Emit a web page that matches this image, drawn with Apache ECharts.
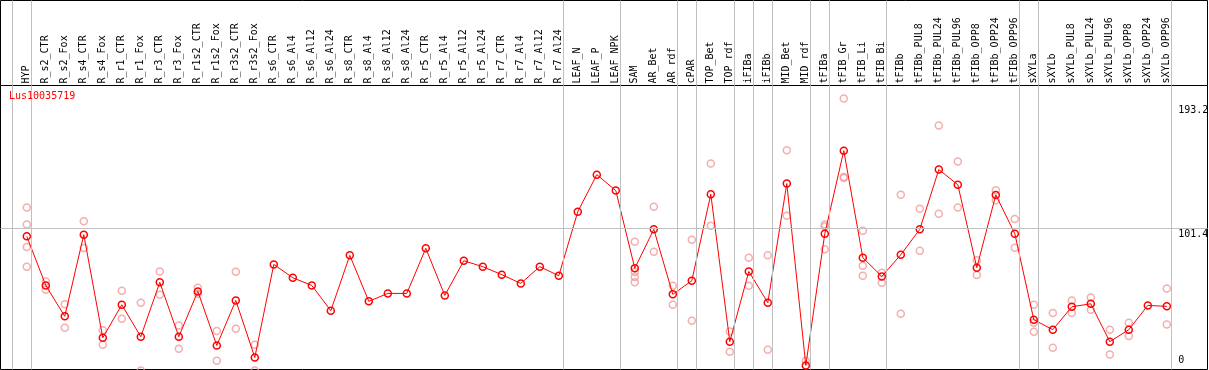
<!DOCTYPE html>
<html>
<head>
<meta charset="utf-8">
<script src="https://cdn.jsdelivr.net/npm/echarts@6/dist/echarts.min.js"></script>
<style>
html,body{margin:0;padding:0;background:#fff;}
#chart{width:1209px;height:370px;}
</style>
</head>
<body>
<div id="chart"></div>
<script>
const title = 'Lus10035719';
const categories = ['HYP','R_s2_CTR','R_s2_Fox','R_s4_CTR','R_s4_Fox','R_r1_CTR','R_r1_Fox','R_r3_CTR','R_r3_Fox','R_r1s2_CTR','R_r1s2_Fox','R_r3s2_CTR','R_r3s2_Fox','R_s6_CTR','R_s6_Al4','R_s6_Al12','R_s6_Al24','R_s8_CTR','R_s8_Al4','R_s8_Al12','R_s8_Al24','R_r5_CTR','R_r5_Al4','R_r5_Al12','R_r5_Al24','R_r7_CTR','R_r7_Al4','R_r7_Al12','R_r7_Al24','LEAF_N','LEAF_P','LEAF_NPK','SAM','AR_Bet','AR_rdf','cPAR','TOP_Bet','TOP_rdf','iFIBa','iFIBb','MID_Bet','MID_rdf','tFIBa','tFIB_Gr','tFIB_Li','tFIB_Bi','tFIBb','tFIBb_PUL8','tFIBb_PUL24','tFIBb_PUL96','tFIBb_OPP8','tFIBb_OPP24','tFIBb_OPP96','sXYLa','sXYLb','sXYLb_PUL8','sXYLb_PUL24','sXYLb_PUL96','sXYLb_OPP8','sXYLb_OPP24','sXYLb_OPP96'];
const meanValues = [95.7,59.3,36.4,96.9,20.5,45.0,21.3,61.6,21.3,54.9,
  14.8,48.2,5.9,74.9,65.0,59.3,40.6,81.6,47.5,53.4,
  53.4,86.8,51.9,77.6,73.2,67.3,60.8,73.2,66.5,114.0,
  141.4,129.6,72.0,100.9,52.7,62.8,126.9,17.6,69.7,46.5,
  134.8,0,97.7,159.2,79.9,66.0,82.1,100.9,145.2,134.0,
  72.5,126.4,97.7,33.9,26.5,43.5,45.7,17.6,26.5,44.5,43.8];
const replicateValues = [
  [117.0,104.4,87.8,73.2],[62.3,56.1],[45.3,27.9],[106.8,87.0],[26.0,15.3],
  [55.4,34.6],[46.5,-3.7],[69.7,52.4],[29.7,12.4],[57.6,53.2],
  [25.5,3.5],[69.5,27.2],[15.3,-3.7],[],[],
  [],[],[],[],[],
  [],[],[],[],[],
  [],[],[],[],[],
  [],[],[91.7,69.2,65.5,61.6],[117.7,84.3],[59.1,45.0],
  [93.2,33.1],[149.6,103.6],[25.2,10.1],[79.9,59.1],[81.6,11.6],
  [159.5,111.0],[3.5],[104.4,102.9,86.1],[197.8,139.7,139.0],[99.9,73.9,66.5],
  [68.7,61.3],[126.6,38.3],[116.2,85.1],[177.8,112.5],[151.1,117.0],
  [77.9,67.0],[129.8,122.4],[108.6,87.3],[45.0,31.7,25.0],[38.8,13.1],
  [48.2,39.1],[50.4,41.3],[26.5,8.2],[31.7,21.8],[],[57.1,30.4]];
const groupSeparatorsAfter = [-1,0,28,31,34,35,37,38,39,41,42,45,52,53,60];
const yTickLabels = [193.2, 101.4, 0];
const gridLineValue = 101.4;

const FONT = 'DejaVu Sans Mono';
const xMin = -1.384, xMax = 62.142;
const sepOffset = 0.23;
const labelStart = 60.6;

const sepMark = {
  silent: true, symbol: ['none','none'], animation: false,
  lineStyle: {color: '#c0c0c0', type: 'solid', width: 1},
  label: {show: false},
  data: groupSeparatorsAfter.map(k => ({xAxis: k + sepOffset}))
};

const repData = [];
replicateValues.forEach((arr, i) => arr.forEach(v => repData.push([i, v])));

const tickLabelLines = yTickLabels.map(v => [
  {coord: [labelStart, v],
   label: {show: true, position: v === 0 ? 'insideStartTop' : 'insideStartBottom',
     formatter: String(v), distance: [0, v === 0 ? 0 : 1], align: 'left',
     fontFamily: FONT, fontSize: 10, color: '#000'}},
  {coord: [xMax, v]}
]);

const chart = echarts.init(document.getElementById('chart'), null, {renderer: 'canvas'});
chart.setOption({
  animation: false,
  backgroundColor: '#fff',
  title: {
    text: title, left: 9, top: 91, padding: 0,
    textStyle: {color: '#ff0000', fontFamily: FONT, fontSize: 10, fontWeight: 'normal'}
  },
  grid: [
    {left: 0.5, top: 0.5, width: 1207, height: 85, show: true, borderColor: '#000', borderWidth: 1, backgroundColor: 'transparent'},
    {left: 0.5, top: 85.5, width: 1207, height: 284, show: true, borderColor: '#000', borderWidth: 1, backgroundColor: 'transparent'}
  ],
  xAxis: [
    {type: 'value', gridIndex: 0, min: xMin, max: xMax, position: 'bottom',
     axisLine: {show: false}, axisTick: {show: false}, splitLine: {show: false},
     axisLabel: {show: true, inside: true, rotate: 90, margin: 2,
       customValues: categories.map((_, i) => i),
       formatter: v => categories[Math.round(v)] || '',
       fontFamily: FONT, fontSize: 10, color: '#000'}},
    {type: 'value', gridIndex: 1, min: xMin, max: xMax,
     axisLine: {show: false}, axisTick: {show: false}, splitLine: {show: false}, axisLabel: {show: false}}
  ],
  yAxis: [
    {type: 'value', gridIndex: 0, min: 0, max: 1, show: false},
    {type: 'value', gridIndex: 1, min: -3, max: 207.5,
     axisLine: {show: false}, axisTick: {show: false}, splitLine: {show: false}, axisLabel: {show: false}}
  ],
  series: [
    {type: 'line', xAxisIndex: 0, yAxisIndex: 0, data: [], markLine: sepMark},
    {type: 'line', xAxisIndex: 1, yAxisIndex: 1, data: [], markLine: sepMark},
    {type: 'line', xAxisIndex: 1, yAxisIndex: 1, data: [], z: 1,
     markLine: {
       silent: true, symbol: ['none','none'], animation: false,
       lineStyle: {color: '#c0c0c0', type: 'solid', width: 1},
       label: {show: false},
       data: [{yAxis: gridLineValue}]
     }},
    {type: 'line', xAxisIndex: 1, yAxisIndex: 1, data: [], z: 1,
     markLine: {
       silent: true, symbol: ['none','none'], animation: false,
       lineStyle: {color: 'rgba(0,0,0,0)', type: 'solid', width: 1},
       data: tickLabelLines
     }},
    {type: 'scatter', xAxisIndex: 1, yAxisIndex: 1, data: repData, z: 2, clip: false,
     symbol: 'circle', symbolSize: 7,
     itemStyle: {color: 'rgba(0,0,0,0)', borderColor: '#f09a9a', borderWidth: 1.5}},
    {type: 'line', xAxisIndex: 1, yAxisIndex: 1, z: 3,
     data: meanValues.map((v, i) => [i, v]),
     symbol: 'circle', symbolSize: 7, showAllSymbol: true,
     lineStyle: {color: '#ff0000', width: 1},
     itemStyle: {color: 'rgba(0,0,0,0)', borderColor: '#ff0000', borderWidth: 1.5}}
  ]
});
</script>
</body>
</html>
